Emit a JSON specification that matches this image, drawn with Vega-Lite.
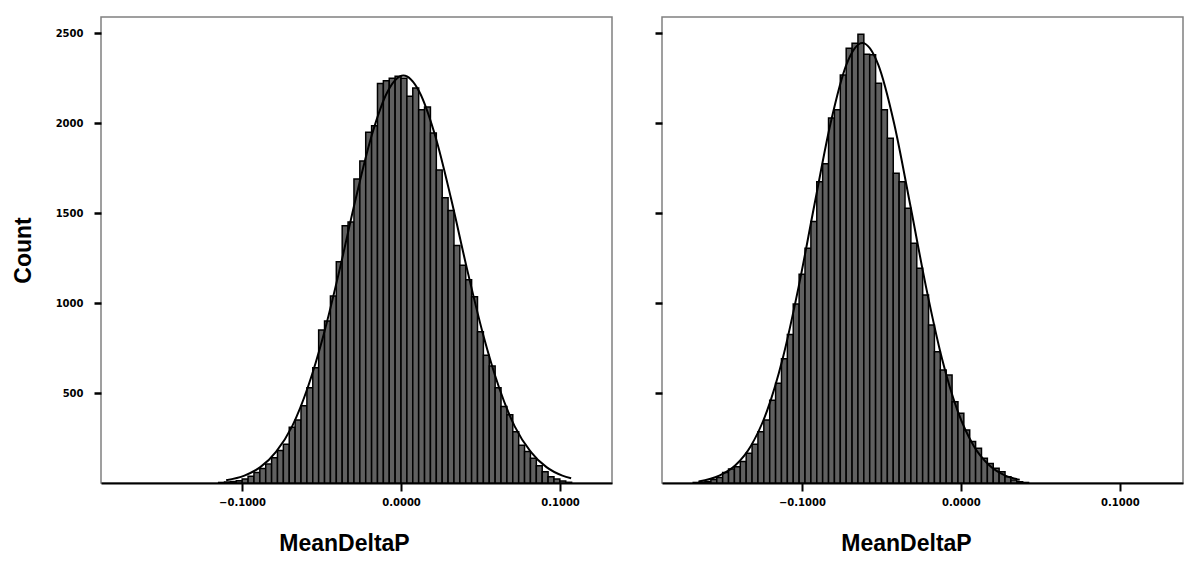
{
  "$schema": "https://vega.github.io/schema/vega-lite/v6.json",
  "padding": {"left": 11, "top": 16, "right": 5, "bottom": 5},
  "background": "white",
  "spacing": 40,
  "config": {
    "view": {"stroke": "#808080", "strokeWidth": 1.5},
    "axis": {"grid": false}
  },
  "datasets": {
    "leftBars": [
      {"start": -0.1147, "end": -0.111, "count": 3},
      {"start": -0.111, "end": -0.1073, "count": 5},
      {"start": -0.1073, "end": -0.1036, "count": 8},
      {"start": -0.1036, "end": -0.0999, "count": 12},
      {"start": -0.0999, "end": -0.0962, "count": 22},
      {"start": -0.0962, "end": -0.0925, "count": 38},
      {"start": -0.0925, "end": -0.0888, "count": 58},
      {"start": -0.0888, "end": -0.0851, "count": 80},
      {"start": -0.0851, "end": -0.0814, "count": 105},
      {"start": -0.0814, "end": -0.0777, "count": 140},
      {"start": -0.0777, "end": -0.074, "count": 180},
      {"start": -0.074, "end": -0.0703, "count": 215},
      {"start": -0.0703, "end": -0.0666, "count": 310},
      {"start": -0.0666, "end": -0.0629, "count": 350},
      {"start": -0.0629, "end": -0.0592, "count": 430},
      {"start": -0.0592, "end": -0.0555, "count": 530},
      {"start": -0.0555, "end": -0.0518, "count": 640},
      {"start": -0.0518, "end": -0.0481, "count": 850},
      {"start": -0.0481, "end": -0.0444, "count": 900},
      {"start": -0.0444, "end": -0.0407, "count": 1040},
      {"start": -0.0407, "end": -0.037, "count": 1230},
      {"start": -0.037, "end": -0.0333, "count": 1430},
      {"start": -0.0333, "end": -0.0296, "count": 1450},
      {"start": -0.0296, "end": -0.0259, "count": 1690},
      {"start": -0.0259, "end": -0.0222, "count": 1790},
      {"start": -0.0222, "end": -0.0185, "count": 1950},
      {"start": -0.0185, "end": -0.0148, "count": 1985},
      {"start": -0.0148, "end": -0.0111, "count": 2220},
      {"start": -0.0111, "end": -0.0074, "count": 2235},
      {"start": -0.0074, "end": -0.0037, "count": 2250},
      {"start": -0.0037, "end": 0, "count": 2260},
      {"start": 0, "end": 0.0037, "count": 2250},
      {"start": 0.0037, "end": 0.0074, "count": 2150},
      {"start": 0.0074, "end": 0.0111, "count": 2195},
      {"start": 0.0111, "end": 0.0148, "count": 2075},
      {"start": 0.0148, "end": 0.0185, "count": 2090},
      {"start": 0.0185, "end": 0.0222, "count": 1945},
      {"start": 0.0222, "end": 0.0259, "count": 1740},
      {"start": 0.0259, "end": 0.0296, "count": 1585},
      {"start": 0.0296, "end": 0.0333, "count": 1515},
      {"start": 0.0333, "end": 0.037, "count": 1320},
      {"start": 0.037, "end": 0.0407, "count": 1210},
      {"start": 0.0407, "end": 0.0444, "count": 1130},
      {"start": 0.0444, "end": 0.0481, "count": 1035},
      {"start": 0.0481, "end": 0.0518, "count": 840},
      {"start": 0.0518, "end": 0.0555, "count": 710},
      {"start": 0.0555, "end": 0.0592, "count": 650},
      {"start": 0.0592, "end": 0.0629, "count": 530},
      {"start": 0.0629, "end": 0.0666, "count": 425},
      {"start": 0.0666, "end": 0.0703, "count": 380},
      {"start": 0.0703, "end": 0.074, "count": 285},
      {"start": 0.074, "end": 0.0777, "count": 210},
      {"start": 0.0777, "end": 0.0814, "count": 175},
      {"start": 0.0814, "end": 0.0851, "count": 137},
      {"start": 0.0851, "end": 0.0888, "count": 96},
      {"start": 0.0888, "end": 0.0925, "count": 63},
      {"start": 0.0925, "end": 0.0962, "count": 35},
      {"start": 0.0962, "end": 0.0999, "count": 22},
      {"start": 0.0999, "end": 0.1036, "count": 11},
      {"start": 0.1036, "end": 0.1073, "count": 4}
    ],
    "leftCurve": [
      {"x": -0.110, "y": 15},
      {"x": -0.0985, "y": 41},
      {"x": -0.0885, "y": 88},
      {"x": -0.0785, "y": 175},
      {"x": -0.0685, "y": 315},
      {"x": -0.0585, "y": 535},
      {"x": -0.0485, "y": 830},
      {"x": -0.0385, "y": 1190},
      {"x": -0.0285, "y": 1580},
      {"x": -0.0185, "y": 1930},
      {"x": -0.0085, "y": 2175},
      {"x": 0.0015, "y": 2265},
      {"x": 0.0115, "y": 2175},
      {"x": 0.0215, "y": 1930},
      {"x": 0.0315, "y": 1580},
      {"x": 0.0415, "y": 1190},
      {"x": 0.0515, "y": 830},
      {"x": 0.0615, "y": 535},
      {"x": 0.0715, "y": 315},
      {"x": 0.0815, "y": 175},
      {"x": 0.0915, "y": 88},
      {"x": 0.1015, "y": 41},
      {"x": 0.107, "y": 26}
    ],
    "rightBars": [
      {"start": -0.16835, "end": -0.16465, "count": 3},
      {"start": -0.16465, "end": -0.16095, "count": 5},
      {"start": -0.16095, "end": -0.15725, "count": 8},
      {"start": -0.15725, "end": -0.15355, "count": 20},
      {"start": -0.15355, "end": -0.14985, "count": 30},
      {"start": -0.14985, "end": -0.14615, "count": 59},
      {"start": -0.14615, "end": -0.14245, "count": 78},
      {"start": -0.14245, "end": -0.13875, "count": 90},
      {"start": -0.13875, "end": -0.13505, "count": 120},
      {"start": -0.13505, "end": -0.13135, "count": 165},
      {"start": -0.13135, "end": -0.12765, "count": 215},
      {"start": -0.12765, "end": -0.12395, "count": 285},
      {"start": -0.12395, "end": -0.12025, "count": 350},
      {"start": -0.12025, "end": -0.11655, "count": 460},
      {"start": -0.11655, "end": -0.11285, "count": 555},
      {"start": -0.11285, "end": -0.10915, "count": 690},
      {"start": -0.10915, "end": -0.10545, "count": 825},
      {"start": -0.10545, "end": -0.10175, "count": 995},
      {"start": -0.10175, "end": -0.09805, "count": 1160},
      {"start": -0.09805, "end": -0.09435, "count": 1305},
      {"start": -0.09435, "end": -0.09065, "count": 1453},
      {"start": -0.09065, "end": -0.08695, "count": 1675},
      {"start": -0.08695, "end": -0.08325, "count": 1774},
      {"start": -0.08325, "end": -0.07955, "count": 2028},
      {"start": -0.07955, "end": -0.07585, "count": 2074},
      {"start": -0.07585, "end": -0.07215, "count": 2268},
      {"start": -0.07215, "end": -0.06845, "count": 2416},
      {"start": -0.06845, "end": -0.06475, "count": 2444},
      {"start": -0.06475, "end": -0.06105, "count": 2494},
      {"start": -0.06105, "end": -0.05735, "count": 2383},
      {"start": -0.05735, "end": -0.05365, "count": 2380},
      {"start": -0.05365, "end": -0.04995, "count": 2222},
      {"start": -0.04995, "end": -0.04625, "count": 2074},
      {"start": -0.04625, "end": -0.04255, "count": 1916},
      {"start": -0.04255, "end": -0.03885, "count": 1722},
      {"start": -0.03885, "end": -0.03515, "count": 1675},
      {"start": -0.03515, "end": -0.03145, "count": 1527},
      {"start": -0.03145, "end": -0.02775, "count": 1333},
      {"start": -0.02775, "end": -0.02405, "count": 1194},
      {"start": -0.02405, "end": -0.02035, "count": 1045},
      {"start": -0.02035, "end": -0.01665, "count": 878},
      {"start": -0.01665, "end": -0.01295, "count": 730},
      {"start": -0.01295, "end": -0.00925, "count": 628},
      {"start": -0.00925, "end": -0.00555, "count": 600},
      {"start": -0.00555, "end": -0.00185, "count": 452},
      {"start": -0.00185, "end": 0.00185, "count": 387},
      {"start": 0.00185, "end": 0.00555, "count": 295},
      {"start": 0.00555, "end": 0.00925, "count": 230},
      {"start": 0.00925, "end": 0.01295, "count": 193},
      {"start": 0.01295, "end": 0.01665, "count": 137},
      {"start": 0.01665, "end": 0.02035, "count": 109},
      {"start": 0.02035, "end": 0.02405, "count": 82},
      {"start": 0.02405, "end": 0.02775, "count": 63},
      {"start": 0.02775, "end": 0.03145, "count": 35},
      {"start": 0.03145, "end": 0.03515, "count": 17},
      {"start": 0.03515, "end": 0.03885, "count": 7},
      {"start": 0.03885, "end": 0.04255, "count": 3}
    ],
    "rightCurve": [
      {"x": -0.165, "y": 8},
      {"x": -0.152, "y": 41},
      {"x": -0.142, "y": 97},
      {"x": -0.132, "y": 207},
      {"x": -0.122, "y": 399},
      {"x": -0.112, "y": 695},
      {"x": -0.102, "y": 1093},
      {"x": -0.092, "y": 1552},
      {"x": -0.082, "y": 1998},
      {"x": -0.072, "y": 2325},
      {"x": -0.062, "y": 2445},
      {"x": -0.052, "y": 2325},
      {"x": -0.042, "y": 1998},
      {"x": -0.032, "y": 1552},
      {"x": -0.022, "y": 1093},
      {"x": -0.012, "y": 695},
      {"x": -0.002, "y": 399},
      {"x": 0.008, "y": 207},
      {"x": 0.018, "y": 97},
      {"x": 0.028, "y": 41},
      {"x": 0.037, "y": 18}
    ]
  },
  "hconcat": [
    {
      "width": 511,
      "height": 466,
      "layer": [
        {
          "data": {"name": "leftBars"},
          "mark": {"type": "rect", "fill": "#606060", "stroke": "black", "strokeWidth": 1.5},
          "encoding": {
            "x": {"field": "start", "type": "quantitative",
              "scale": {"domain": [-0.1887, 0.1327], "nice": false, "zero": false},
              "axis": {"values": [-0.1, 0, 0.1], "format": ".4f", "domainColor": "black", "domainWidth": 2,
                "tickColor": "black", "tickWidth": 2, "tickSize": 8,
                "labelFont": "DejaVu Sans", "labelFontWeight": "bold", "labelFontSize": 10, "labelColor": "black", "labelPadding": 6,
                "title": "MeanDeltaP", "titleFont": "Liberation Sans", "titleFontWeight": "bold", "titleFontSize": 23, "titleColor": "black",
                "titleX": 243, "titleY": 60, "titleBaseline": "middle", "titleAlign": "center"}},
            "x2": {"field": "end"},
            "y": {"field": "count", "type": "quantitative",
              "scale": {"domain": [0, 2590], "nice": false},
              "axis": {"values": [500, 1000, 1500, 2000, 2500], "format": "d", "domain": false,
                "tickColor": "black", "tickWidth": 2.5, "tickSize": 7,
                "labelFont": "DejaVu Sans", "labelFontWeight": "bold", "labelFontSize": 10, "labelColor": "black", "labelPadding": 11,
                "title": "Count", "titleFont": "Liberation Sans", "titleFontWeight": "bold", "titleFontSize": 23, "titleColor": "black", "titlePadding": 20}},
            "y2": {"datum": 0}
          }
        },
        {
          "data": {"name": "leftCurve"},
          "mark": {"type": "line", "color": "black", "strokeWidth": 2, "interpolate": "monotone"},
          "encoding": {
            "x": {"field": "x", "type": "quantitative"},
            "y": {"field": "y", "type": "quantitative"}
          }
        }
      ]
    },
    {
      "width": 521,
      "height": 466,
      "layer": [
        {
          "data": {"name": "rightBars"},
          "mark": {"type": "rect", "fill": "#606060", "stroke": "black", "strokeWidth": 1.5},
          "encoding": {
            "x": {"field": "start", "type": "quantitative",
              "scale": {"domain": [-0.188, 0.1397], "nice": false, "zero": false},
              "axis": {"values": [-0.1, 0, 0.1], "format": ".4f", "domainColor": "black", "domainWidth": 2,
                "tickColor": "black", "tickWidth": 2, "tickSize": 8,
                "labelFont": "DejaVu Sans", "labelFontWeight": "bold", "labelFontSize": 10, "labelColor": "black", "labelPadding": 6,
                "title": "MeanDeltaP", "titleFont": "Liberation Sans", "titleFontWeight": "bold", "titleFontSize": 23, "titleColor": "black",
                "titleX": 244, "titleY": 60, "titleBaseline": "middle", "titleAlign": "center"}},
            "x2": {"field": "end"},
            "y": {"field": "count", "type": "quantitative",
              "scale": {"domain": [0, 2590], "nice": false},
              "axis": {"values": [500, 1000, 1500, 2000, 2500], "domain": false, "labels": false, "title": null,
                "tickColor": "black", "tickWidth": 2.5, "tickSize": 7}},
            "y2": {"datum": 0}
          }
        },
        {
          "data": {"name": "rightCurve"},
          "mark": {"type": "line", "color": "black", "strokeWidth": 2, "interpolate": "monotone"},
          "encoding": {
            "x": {"field": "x", "type": "quantitative"},
            "y": {"field": "y", "type": "quantitative"}
          }
        }
      ]
    }
  ]
}
